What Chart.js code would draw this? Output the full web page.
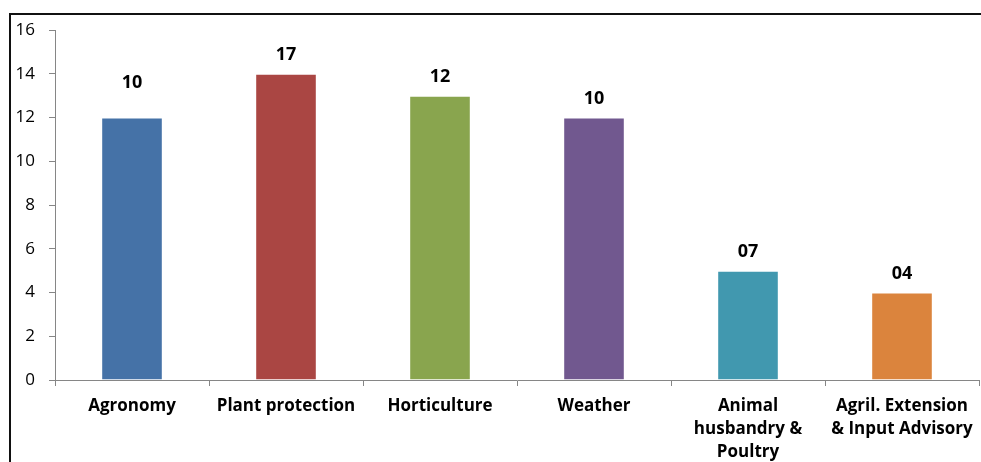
<!DOCTYPE html>
<html>
<head>
<meta charset="utf-8">
<script src="https://cdn.jsdelivr.net/npm/chart.js@4.4.1/dist/chart.umd.min.js"></script>
<style>
  body { margin: 0; background: #fff; }
  #wrap { position: relative; width: 981px; height: 462px; }
  #frame { position: absolute; left: 9px; top: 13px; right: 0; bottom: 0;
           border-top: 2px solid #111; border-left: 2px solid #111; }
  canvas { position: absolute; left: 0; top: 0; }
</style>
</head>
<body>
<div id="wrap">
  <div id="frame"></div>
  <canvas id="chart" width="981" height="462"></canvas>
</div>
<script>
const categories = [
  'Agronomy',
  'Plant protection',
  'Horticulture',
  'Weather',
  ['Animal', 'husbandry &', 'Poultry'],
  ['Agril. Extension', '& Input Advisory']
];
const barValues = [12, 14, 13, 12, 5, 4];
const valueLabels = ['10', '17', '12', '10', '07', '04'];
const yTicks = [0, 2, 4, 6, 8, 10, 12, 14, 16];
const barColors = ['#4572A7', '#AA4643', '#89A54E', '#71588F', '#4198AF', '#DB843D'];

// draws the text above each bar
const barLabels = {
  id: 'barLabels',
  afterDatasetsDraw(chart, args, opts) {
    const ctx = chart.ctx;
    const meta = chart.getDatasetMeta(0);
    ctx.save();
    ctx.font = 'bold 18px "Open Sans"';
    ctx.fillStyle = '#000';
    ctx.textAlign = 'center';
    ctx.textBaseline = 'bottom';
    meta.data.forEach((bar, i) => {
      const extra = (opts.extra && opts.extra[i]) || 0;
      ctx.fillText(valueLabels[i], bar.x, bar.y - 10 - extra);
    });
    ctx.restore();
  }
};

new Chart(document.getElementById('chart'), {
  type: 'bar',
  data: {
    labels: categories,
    datasets: [{
      data: barValues,
      backgroundColor: barColors,
      borderColor: 'rgba(255,255,255,0.35)',
      borderWidth: 1,
      barPercentage: 0.4,
      categoryPercentage: 1
    }]
  },
  options: {
    responsive: false,
    animation: false,
    layout: { padding: { top: 30, right: 2, left: 0, bottom: 0 } },
    plugins: {
      legend: { display: false },
      tooltip: { enabled: false },
      barLabels: { extra: [16, 0, 0, 0, 0, 0] }
    },
    scales: {
      y: {
        min: 0,
        max: 16,
        afterBuildTicks(scale) { scale.ticks = yTicks.map(v => ({ value: v })); },
        afterFit(scale) { scale.width = 55; },
        border: { color: '#868686', width: 1 },
        grid: { drawOnChartArea: false, color: '#868686', tickLength: 6 },
        ticks: { color: '#000', padding: 14, font: { family: '"Open Sans"', size: 17 } }
      },
      x: {
        afterFit(scale) { scale.height = 82; },
        border: { color: '#868686', width: 1 },
        grid: { drawOnChartArea: false, color: '#868686', tickLength: 6, offset: true },
        ticks: {
          color: '#000', padding: 8, maxRotation: 0, autoSkip: false,
          font: { family: '"Open Sans"', size: 17, weight: 'bold', lineHeight: 1.38 }
        }
      }
    }
  },
  plugins: [barLabels]
});
</script>
</body>
</html>
